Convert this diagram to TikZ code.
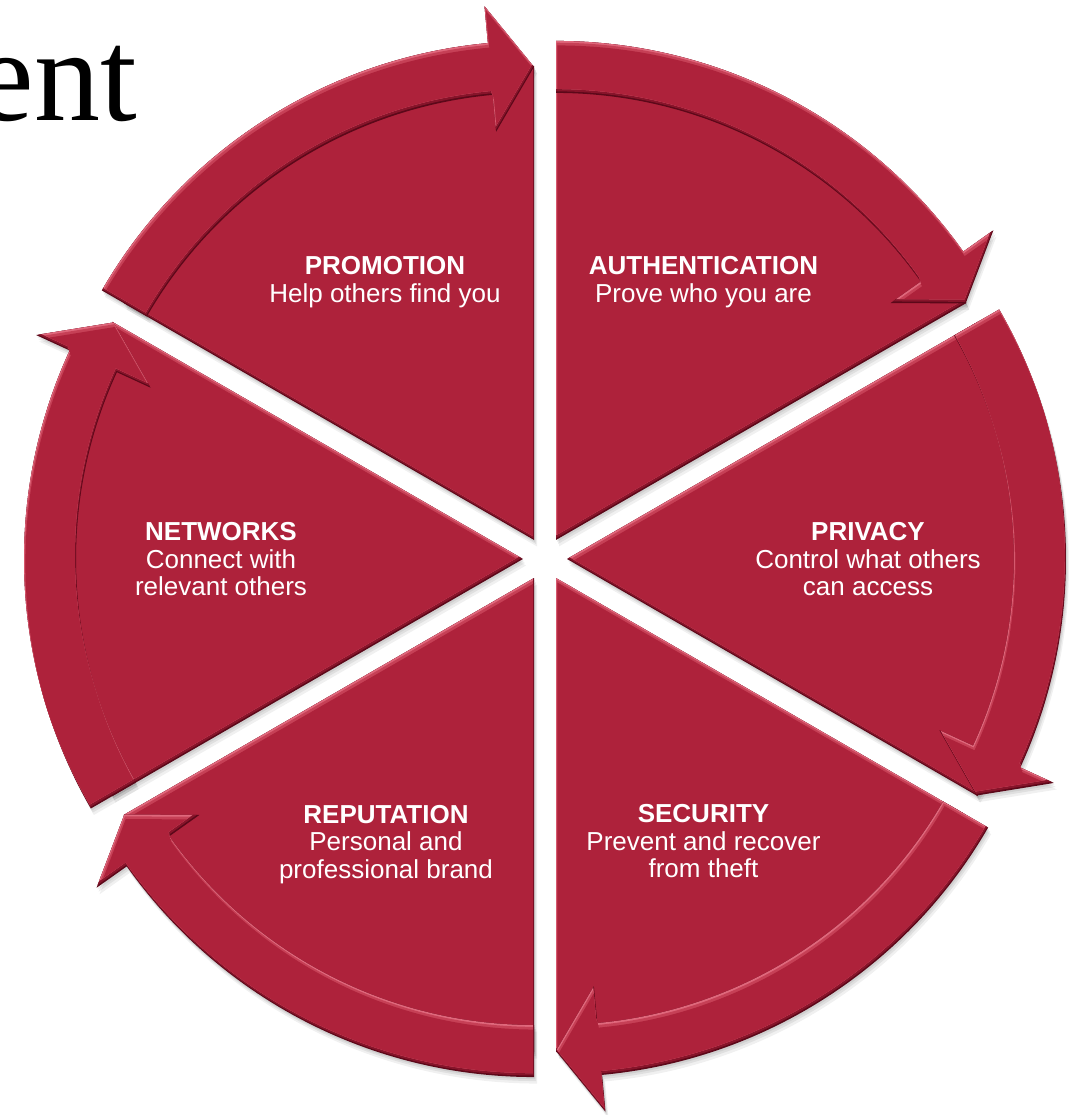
\documentclass[tikz,border=0pt]{standalone}
\usepackage{fontspec}
\setsansfont{Liberation Sans}
\newfontfamily\titlefont{Liberation Serif}
\definecolor{crim}{RGB}{174,34,59}
\definecolor{dkA}{RGB}{92,8,25}
\definecolor{dkB}{RGB}{135,20,42}
\definecolor{ltA}{RGB}{224,104,124}
\definecolor{ltB}{RGB}{198,64,86}

\newcommand\bevelfill[1]{%
  \begin{scope}
    \clip #1;
    \fill[dkA] (-700,-700) rectangle (700,700);
    \begin{scope}
      \clip[xshift=-0.5pt,yshift=1.6pt] #1;
      \fill[dkB] (-700,-700) rectangle (700,700);
      \begin{scope}
        \clip[xshift=-1.2pt,yshift=4pt] #1;
        \fill[ltA] (-700,-700) rectangle (700,700);
        \begin{scope}
          \clip[xshift=0.6pt,yshift=-1.8pt] #1;
          \fill[ltB] (-700,-700) rectangle (700,700);
          \begin{scope}
            \clip[xshift=1.4pt,yshift=-4.5pt] #1;
            \fill[crim] (-700,-700) rectangle (700,700);
          \end{scope}
        \end{scope}
      \end{scope}
    \end{scope}
  \end{scope}}

\newcommand\shadowfill[1]{%
  \fill[black,opacity=0.07,xshift=1pt,yshift=-2pt] #1;
  \fill[black,opacity=0.07,xshift=2pt,yshift=-4pt] #1;
  \fill[black,opacity=0.06,xshift=3pt,yshift=-6.5pt] #1;}

% #1 = bisector angle of the slice
\newcommand\sliceshadow[1]{%
  \begin{scope}[shift={(#1:22pt)}]
    \shadowfill{(0,0) -- ({#1+30}:474pt) arc[start angle={#1+30}, end angle={#1-30}, radius=474pt] -- cycle}
    \shadowfill{({#1+30}:447pt) arc[start angle={#1+30}, end angle={#1-24.7}, radius=447pt] -- ({#1-24.7}:410pt) -- ({#1-30}:473pt) -- ({#1-24.7}:536pt) -- ({#1-24.7}:499pt) arc[start angle={#1-24.7}, end angle={#1+30}, radius=499pt] -- cycle}
  \end{scope}}

\newcommand\slicebody[1]{%
  \begin{scope}[shift={(#1:22pt)}]
    \bevelfill{(0,0) -- ({#1+30}:474pt) arc[start angle={#1+30}, end angle={#1-30}, radius=474pt] -- cycle}
    \bevelfill{({#1+30}:447pt) arc[start angle={#1+30}, end angle={#1-24.7}, radius=447pt] -- ({#1-24.7}:410pt) -- ({#1-30}:473pt) -- ({#1-24.7}:536pt) -- ({#1-24.7}:499pt) arc[start angle={#1-24.7}, end angle={#1+30}, radius=499pt] -- cycle}
  \end{scope}}

\tikzset{
  lbl/.style={text=white, font=\sffamily\fontsize{26}{27.5}\selectfont, align=center, inner sep=0pt},
}

\begin{document}
\begin{tikzpicture}[x=1pt,y=1pt]
\useasboundingbox (-545,-556) rectangle (529,559);

\node[font=\titlefont\fontsize{132}{150}\selectfont, anchor=base east, inner sep=0pt] (title) at (-408,438) {ent};

\foreach \b in {60,0,-60,-120,180,120} {\sliceshadow{\b}}
\foreach \b in {60,0,-60,-120,180,120} {\slicebody{\b}}

\node[lbl] (promotion) at (-160,276.8) {\textbf{PROMOTION}\\Help others find you};
\node[lbl] (authentication) at (158.5,276.8) {\textbf{AUTHENTICATION}\\Prove who you are};
\node[lbl] (networks) at (-324,-0.2) {\textbf{NETWORKS}\\Connect with\\relevant others};
\node[lbl] (privacy) at (323,-0.2) {\textbf{PRIVACY}\\Control what others\\can access};
\node[lbl] (reputation) at (-159,-285.3) {\textbf{REPUTATION}\\Personal and\\professional brand};
\node[lbl] (security) at (158.5,-282.5) {\textbf{SECURITY}\\Prevent and recover\\from theft};
\end{tikzpicture}
\end{document}
